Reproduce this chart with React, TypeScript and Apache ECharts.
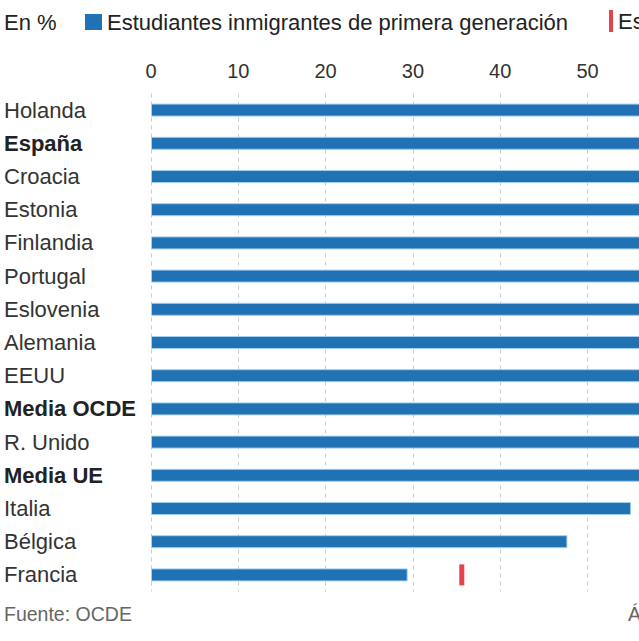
import React, { useEffect, useRef } from "react";
import * as echarts from "echarts";

const categories = [
  "Holanda",
  "España",
  "Croacia",
  "Estonia",
  "Finlandia",
  "Portugal",
  "Eslovenia",
  "Alemania",
  "EEUU",
  "Media OCDE",
  "R. Unido",
  "Media UE",
  "Italia",
  "Bélgica",
  "Francia",
];
const boldCategories = ["España", "Media OCDE", "Media UE"];

const primeraGeneracion = [77, 75, 73, 72, 71, 70, 69, 68, 66, 64, 62, 60, 55.0, 47.7, 29.4];
const nativos = [72, 70, 74, 68, 67, 69, 65, 66, 63, 62, 61, 60, 62, 64, 35.6];

const xTicks = { min: 0, max: 80, interval: 10 };

const FONT = "'Liberation Sans', Arial, sans-serif";

export default function App() {
  const ref = useRef<HTMLDivElement>(null);

  useEffect(() => {
    if (!ref.current) return;
    const chart = echarts.init(ref.current, null, { renderer: "svg" });
    chart.setOption({
      animation: false,
      textStyle: { fontFamily: FONT },
      legend: [
        {
          left: 85,
          top: 11,
          padding: 0,
          icon: "rect",
          itemWidth: 17,
          itemHeight: 16,
          itemStyle: { borderWidth: 0 },
          textStyle: { fontSize: 22, color: "#222", fontFamily: FONT },
          data: ["Estudiantes inmigrantes de primera generación"],
        },
        {
          left: 609,
          top: 10,
          padding: 0,
          icon: "rect",
          itemWidth: 4,
          itemHeight: 22,
          itemStyle: { borderWidth: 0 },
          textStyle: { fontSize: 22, color: "#222", fontFamily: FONT },
          data: ["Estudiantes nativos"],
        },
      ],
      graphic: [
        {
          type: "text",
          left: 4,
          top: 11,
          style: { text: "En %", fontSize: 22, fill: "#222", fontFamily: FONT },
        },
        {
          type: "text",
          left: 4,
          top: 604,
          style: { text: "Fuente: OCDE", fontSize: 19.5, fill: "#666", fontFamily: FONT },
        },
        {
          type: "text",
          left: 628,
          top: 604,
          style: { text: "Á", fontSize: 19.5, fill: "#666", fontFamily: FONT },
        },
      ],
      grid: {
        left: 151,
        top: 93.5,
        height: 498,
        width: 87.3 * 8,
        outerBoundsMode: "none",
        containLabel: false,
      },
      xAxis: {
        type: "value",
        position: "top",
        min: xTicks.min,
        max: xTicks.max,
        interval: xTicks.interval,
        axisLine: { show: false },
        axisTick: { show: false },
        axisLabel: { fontSize: 20, color: "#333", margin: 13, fontFamily: FONT },
        splitLine: { show: true, lineStyle: { color: "#cccccc", type: [4, 4], width: 1 } },
      },
      yAxis: {
        type: "category",
        inverse: true,
        data: categories,
        axisLine: { show: false },
        axisTick: { show: false },
        axisLabel: {
          align: "left",
          margin: 147,
          fontSize: 22,
          color: "#333",
          fontFamily: FONT,
          formatter: (v: string) => (boldCategories.includes(v) ? `{b|${v}}` : v),
          rich: {
            b: { fontSize: 22, fontWeight: "bold", color: "#222", fontFamily: FONT },
          },
        },
      },
      series: [
        {
          name: "Estudiantes inmigrantes de primera generación",
          type: "bar",
          data: primeraGeneracion,
          barWidth: 13,
          itemStyle: { color: "#2171b5", borderColor: "#9fd0f0", borderWidth: 1 },
        },
        {
          name: "Estudiantes nativos",
          type: "scatter",
          data: nativos,
          symbol: "rect",
          symbolSize: [5, 21],
          itemStyle: { color: "#e0131d" },
          z: 3,
        },
      ],
    });
    return () => chart.dispose();
  }, []);

  return (
    <div
      style={{
        position: "fixed",
        left: 0,
        top: 0,
        width: 639,
        height: 641,
        overflow: "hidden",
        background: "#fff",
      }}
    >
      <div ref={ref} style={{ width: 900, height: 641 }} />
    </div>
  );
}
